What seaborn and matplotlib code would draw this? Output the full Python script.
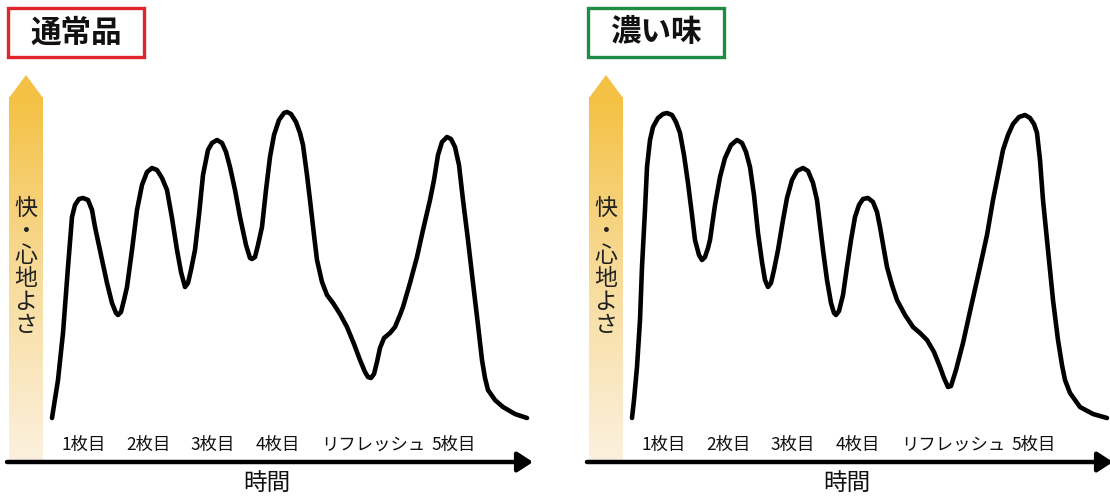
import numpy as np
import pandas as pd
import seaborn as sns
import matplotlib.pyplot as plt
from matplotlib.patches import Rectangle, Polygon
from matplotlib.colors import LinearSegmentedColormap

normal_t = [52, 58, 63, 68, 72, 75, 79, 83, 88, 92, 95, 101, 107, 112, 116, 118, 121, 124, 127,
            132, 137, 142, 147, 152, 157, 162, 167, 172, 177, 181, 185, 188, 191, 195, 199, 203,
            208, 212, 217, 222, 226, 230, 235, 240, 246, 250, 252, 255, 258, 262, 266, 270, 274,
            279, 284, 287, 291, 296, 300, 303, 307, 310, 314, 317, 322, 327, 333, 340, 347, 354,
            360, 365, 368, 371, 374, 377, 380, 384, 390, 395, 400, 403, 410, 417, 423, 430, 434,
            438, 442, 447, 451, 455, 459, 463, 468, 473, 478, 482, 485, 488, 495, 503, 515, 527]
normal_v = [44, 82, 129, 195, 245, 257, 263, 264, 262, 252, 235, 207, 179, 159, 149, 147, 150, 162, 175,
            212, 252, 277, 290, 294, 292, 284, 272, 244, 212, 190, 175, 179, 192, 212, 247, 287,
            312, 319, 322, 319, 310, 295, 272, 245, 217, 204, 203, 205, 217, 235, 272, 305, 327,
            342, 349, 350, 348, 340, 329, 317, 287, 262, 227, 202, 180, 167, 159, 148, 135, 118,
            102, 90, 85, 84, 88, 100, 114, 124, 129, 135, 147, 155, 179, 205, 232, 262, 282,
            307, 320, 325, 323, 315, 297, 262, 222, 179, 137, 102, 84, 72, 62, 55, 48, 44]

rich_t = [52, 54, 57, 60, 62, 65, 67, 70, 73, 78, 83, 87, 92, 96, 100, 104, 108, 112, 115, 119,
          122, 125, 128, 130, 135, 140, 145, 151, 157, 162, 166, 170, 174, 178, 182, 185, 188,
          191, 194, 198, 203, 207, 212, 217, 223, 228, 233, 237, 240, 243, 247, 251, 254, 256,
          259, 263, 267, 271, 275, 279, 283, 288, 293, 297, 300, 304, 307, 312, 317, 325, 333,
          340, 347, 354, 360, 364, 368, 371, 376, 383, 391, 400, 407, 413, 418, 423, 428, 433,
          439, 445, 450, 454, 457, 460, 463, 468, 473, 478, 482, 485, 490, 500, 513, 527]
rich_v = [44, 62, 95, 142, 195, 252, 295, 322, 335, 344, 348, 349, 347, 340, 329, 307, 279, 247, 222, 207,
          202, 205, 214, 222, 257, 285, 304, 317, 322, 319, 310, 295, 267, 229, 200, 182, 175,
          179, 192, 212, 242, 264, 282, 291, 294, 291, 279, 262, 237, 212, 182, 159, 149, 147,
          151, 167, 195, 222, 245, 257, 263, 264, 260, 250, 235, 212, 195, 177, 162, 147, 135,
          129, 122, 110, 95, 84, 75, 76, 92, 119, 155, 195, 227, 262, 287, 312, 327, 338,
          345, 347, 344, 338, 329, 302, 262, 212, 162, 122, 97, 82, 69, 55, 48, 44]

titles = ["通常品", "濃い味"]
title_colors = ["#e0262c", "#1f8c45"]
curves = [(normal_t, normal_v), (rich_t, rich_v)]
tick_labels = ["1枚目", "2枚目", "3枚目", "4枚目", "リフレッシュ", "5枚目"]
tick_times = [83.5, 148.5, 213, 277.5, 373, 453.5]
y_label = "快・心地よさ"
x_label = "時間"

#%% Plot
sns.set_theme(style="white")
plt.rcParams['font.family'] = ['Noto Sans CJK JP', 'DejaVu Sans']

grad = LinearSegmentedColormap.from_list("grad", ["#fcf1df", "#f8dc9c", "#f4c144"])

fig = plt.figure(figsize=(11.1, 4.97), dpi=100)
panel_w = 530 / 1110
for i, (title, tcol, (tt, vv)) in enumerate(zip(titles, title_colors, curves)):
    ax = fig.add_axes([i * 580 / 1110, 0, panel_w, 1])

    # gradient arrow for the vertical axis
    ramp = np.linspace(0, 1, 256).reshape(-1, 1)
    ax.imshow(ramp, cmap=grad, origin='lower', extent=[9, 43, 0, 365], aspect='auto', zorder=1)
    ax.add_patch(Polygon([[9, 364], [26, 387], [43, 364]], closed=True, color="#f4c144", lw=0, zorder=1))
    ax.text(26, 195, "\n".join(y_label), ha='center', va='center', fontsize=16.5,
            linespacing=1.03, color="#222222", zorder=3)

    # curve
    df = pd.DataFrame({"time": tt, "level": vv})
    sns.lineplot(data=df, x="time", y="level", sort=False, color="black", lw=3.3, ax=ax, zorder=4)
    for ln in ax.lines:
        ln.set_solid_capstyle('round')
        ln.set_solid_joinstyle('round')
    ax.set_xlim(0, 530)
    ax.set_ylim(-35, 462)
    ax.axis('off')

    # time axis arrow
    ax.annotate("", xy=(533, 0), xytext=(7, 0), annotation_clip=False,
                arrowprops=dict(arrowstyle="-|>,head_length=0.4,head_width=0.26", lw=3.2,
                                color="black", mutation_scale=23, shrinkA=0, shrinkB=0))
    for lab, pos in zip(tick_labels, tick_times):
        ax.text(pos, 17, lab, ha='center', va='center', fontsize=12.5, color="#111111")
    ax.text(267, -21, x_label, ha='center', va='center', fontsize=17, color="#111111")

    # title box
    ax.add_patch(Rectangle((8, 405), 136, 49, fill=False, edgecolor=tcol, lw=2.4, zorder=5))
    ax.text(76, 429.5, title, ha='center', va='center', fontsize=22, fontweight='bold',
            color="#111111", zorder=6)

plt.savefig("out.png", dpi=100)
